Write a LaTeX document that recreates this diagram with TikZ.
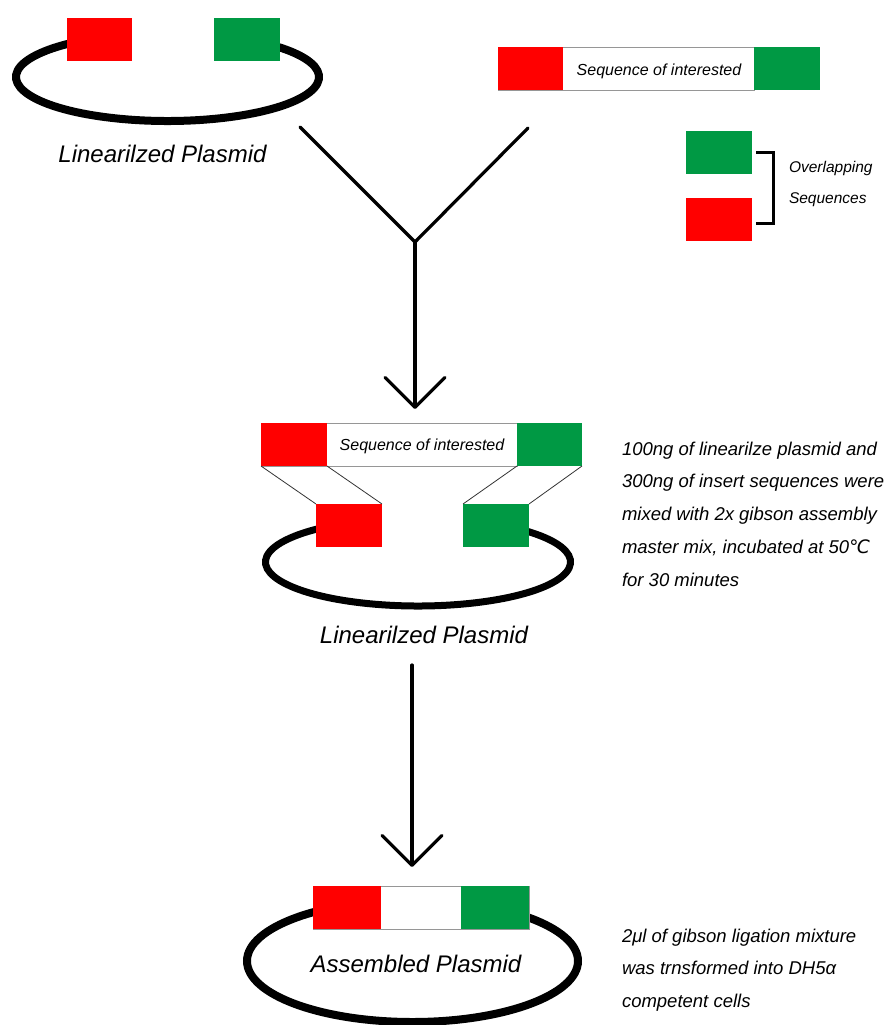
\documentclass[tikz,border=0pt]{standalone}
\usepackage{fontspec}
\setsansfont{Liberation Sans}
\newfontfamily\symfont{DejaVu Sans}
\usetikzlibrary{arrows.meta}
\definecolor{seqred}{RGB}{255,0,0}
\definecolor{seqgreen}{RGB}{0,153,68}
\definecolor{framegray}{RGB}{150,150,150}

\begin{document}
\begin{tikzpicture}[x=1bp,y=-1bp,
  every node/.style={inner sep=0pt, outer sep=0pt},
  redseg/.style={fill=seqred, minimum width=65bp, minimum height=43bp, anchor=north west},
  greenseg/.style={fill=seqgreen, minimum width=66bp, minimum height=43bp, anchor=north west},
  midseg/.style={fill=white, draw=framegray, line width=1bp, minimum height=43bp, anchor=north west},
  backbone/.style={line width=8bp, black},
  flow/.style={line width=3.2bp, line cap=round, line join=round},
  flowarrow/.style={flow, -{Straight Barb[length=30bp, width=60bp, round]}},
  joinline/.style={line width=0.8bp, black!80},
  lbl/.style={font=\sffamily\itshape\fontsize{24bp}{28bp}\selectfont, anchor=base},
  seqlbl/.style={font=\sffamily\itshape\fontsize{16bp}{19bp}\selectfont, anchor=base},
  note/.style={font=\sffamily\itshape\fontsize{18.5bp}{32.8bp}\selectfont, anchor=base west},
  smallnote/.style={font=\sffamily\itshape\fontsize{15.5bp}{31bp}\selectfont, anchor=base west}
]
\useasboundingbox (0,0) rectangle (892,1025);
\clip (0,0) rectangle (892,1025);

% ---------- linearised plasmid (top left) ----------
\coordinate (pc1) at (167.5,77);
\draw[backbone] ([shift={(-69.7:151.5 and 44)}]pc1)
  arc[start angle=-69.7, end angle=254.1, x radius=151.5, y radius=44];
\node[redseg] (p1red) at (67,18) {};
\node[greenseg] (p1green) at (214,18) {};
\node[lbl] (p1lbl) at (162.5,162) {Linearilzed Plasmid};

% ---------- insert (top right) ----------
\node[midseg, minimum width=256bp] (insmid) at (498,47) {};
\node[redseg] (insred) at (498,47) {};
\node[greenseg] (insgreen) at (754,47) {};
\node[seqlbl] (inslbl) at (659,75.5) {Sequence of interested};

% ---------- legend ----------
\node[greenseg] (leggreen) at (686,131) {};
\node[redseg, minimum width=66bp] (legred) at (686,198) {};
\draw[line width=3bp] ([xshift=4bp]leggreen.east) -- ++(17,0)
  |- ([xshift=4bp, yshift=-3.5bp]legred.east);
\node[smallnote] (legtxt1) at (789,172) {Overlapping};
\node[smallnote] (legtxt2) at (789,203) {Sequences};

% ---------- merging arrow ----------
\coordinate (ystartl) at (300,127);
\coordinate (ystartr) at (528,128);
\coordinate (yjoin) at (415,242);
\coordinate (ytip) at (415,409);
\draw[flow] (ystartl) -- (yjoin) -- (ystartr);
\draw[flowarrow] (yjoin) -- (ytip);

% ---------- annealing step ----------
\coordinate (pc2) at (418,562);
\draw[backbone, line width=7bp] ([shift={(-70.5:152.5 and 44)}]pc2)
  arc[start angle=-70.5, end angle=254, x radius=152.5, y radius=44];
\node[midseg, minimum width=256bp] (amid) at (261,423) {};
\node[redseg, minimum width=66bp] (ared) at (261,423) {};
\node[greenseg, minimum width=65bp] (agreen) at (517,423) {};
\node[seqlbl] (albl) at (422,450.5) {Sequence of interested};
\node[redseg, minimum width=66bp] (p2red) at (316,504) {};
\node[greenseg] (p2green) at (463,504) {};
\draw[joinline] (ared.south west) -- (p2red.north west);
\draw[joinline] (ared.south east) -- (p2red.north east);
\draw[joinline] (agreen.south west) -- (p2green.north west);
\draw[joinline] (agreen.south east) -- (p2green.north east);
\node[lbl] (p2lbl) at (424,643) {Linearilzed Plasmid};

\node[note] (step1) at (622,455) {\begin{tabular}[t]{@{}l@{}}
100ng of linearilze plasmid and\\
300ng of insert sequences were\\
mixed with 2x gibson assembly\\
master mix, incubated at 50{\symfont\itshape ℃}\\
for 30 minutes
\end{tabular}};

% ---------- second arrow ----------
\coordinate (a2start) at (412,665);
\coordinate (a2tip) at (412,867);
\draw[flowarrow] (a2start) -- (a2tip);

% ---------- assembled plasmid ----------
\coordinate (pc3) at (412.5,961);
\draw[backbone] (pc3) ellipse [x radius=165.5, y radius=61];
\node[midseg, minimum width=216bp] (fmid) at (313,886) {};
\node[redseg, minimum width=68bp] (fred) at (313,886) {};
\node[greenseg, minimum width=68bp] (fgreen) at (461,886) {};
\node[lbl] (p3lbl) at (416,972) {Assembled Plasmid};

\node[note] (step2) at (622,942) {\begin{tabular}[t]{@{}l@{}}
2μl of gibson ligation mixture\\
was trnsformed into DH5α\\
competent cells
\end{tabular}};
\end{tikzpicture}
\end{document}
